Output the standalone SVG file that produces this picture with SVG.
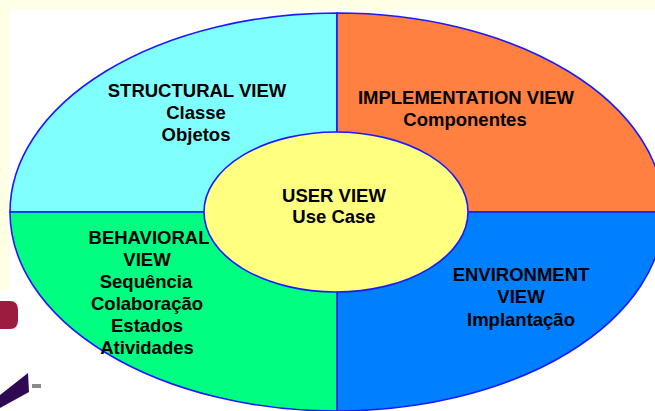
<svg xmlns="http://www.w3.org/2000/svg" width="655" height="411" viewBox="0 0 655 411">
<style>
.q{stroke:#1a1aff;stroke-width:1.6}
.t{font-family:"Liberation Sans",Arial,sans-serif;font-weight:bold;font-size:18.5px;fill:#000;text-anchor:middle}
</style>
<rect x="0" y="0" width="655" height="411" fill="#ffffff"/>
<rect x="0" y="0" width="655" height="9" fill="#ffffe3"/>
<rect x="0" y="0" width="9" height="290" fill="#ffffe3"/>
<g id="logo">
<path d="M0,301 L10,301 Q18,301 18,310 L18,320 Q18,329 10,329 L0,329 Z" fill="#9b1c3c"/>
<polygon points="0,395 28,373 29,392 0,408" fill="#2e0a52"/>
<rect x="32" y="384" width="9" height="4" fill="#8a8a8a"/>
</g>
<g id="structural">
<path class="q" d="M337,212 L10,212 A327,199 0 0 1 337,13 Z" fill="#80ffff"/>
<text class="t" x="197" y="97">STRUCTURAL VIEW</text>
<text class="t" x="196" y="119">Classe</text>
<text class="t" x="196" y="141">Objetos</text>
</g>
<g id="implementation">
<path class="q" d="M337,212 L337,13 A327,199 0 0 1 664,212 Z" fill="#ff8040"/>
<text class="t" x="466" y="104">IMPLEMENTATION VIEW</text>
<text class="t" x="465" y="126">Componentes</text>
</g>
<g id="environment">
<path class="q" d="M337,212 L664,212 A327,199 0 0 1 337,411 Z" fill="#0080ff"/>
<text class="t" x="521" y="281">ENVIRONMENT</text>
<text class="t" x="521" y="303">VIEW</text>
<text class="t" x="521" y="326">Implantação</text>
</g>
<g id="behavioral">
<path class="q" d="M337,212 L337,411 A327,199 0 0 1 10,212 Z" fill="#00ff80"/>
<text class="t" x="149" y="244">BEHAVIORAL</text>
<text class="t" x="147" y="266">VIEW</text>
<text class="t" x="146" y="288">Sequência</text>
<text class="t" x="147" y="310">Colaboração</text>
<text class="t" x="147" y="332">Estados</text>
<text class="t" x="147" y="354">Atividades</text>
</g>
<g id="user">
<ellipse class="q" cx="336" cy="212" rx="132" ry="80" fill="#ffff80"/>
<text class="t" x="334" y="202">USER VIEW</text>
<text class="t" x="334" y="223">Use Case</text>
</g>
</svg>
